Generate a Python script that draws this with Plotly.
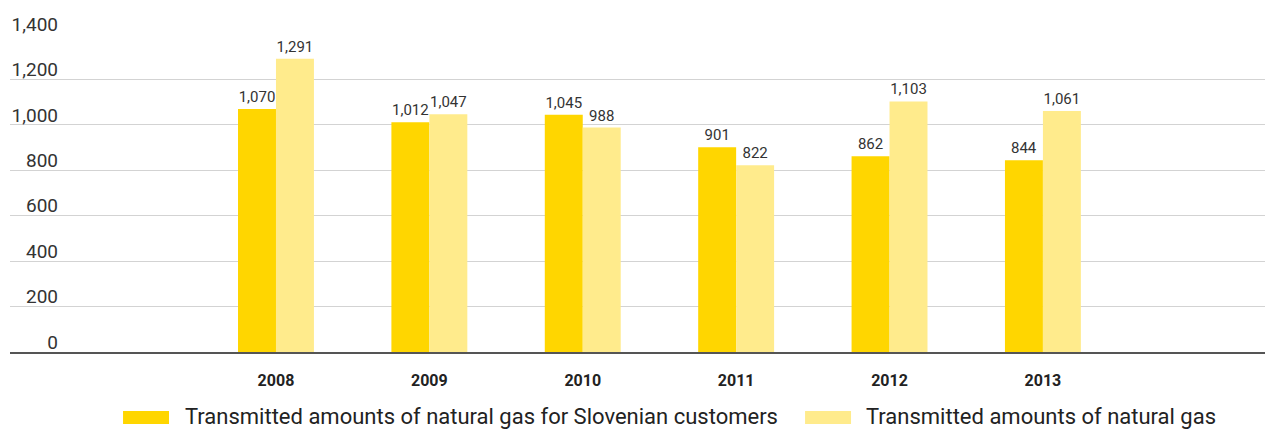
import plotly.graph_objs as go

years = ['2008', '2009', '2010', '2011', '2012', '2013']
slovenian = [1070, 1012, 1045, 901, 862, 844]
total = [1291, 1047, 988, 822, 1103, 1061]
series_names = ['Transmitted amounts of natural gas for Slovenian customers',
                'Transmitted amounts of natural gas']
y_ticks = [0, 200, 400, 600, 800, 1000, 1200, 1400]

dark = '#FFD600'
light = '#FFEB8C'
font = 'Roboto, Noto Sans, sans-serif'

fig = go.Figure()

fig.add_trace(go.Bar(x=years, y=slovenian, name=series_names[0], marker=dict(color=dark, line=dict(width=0)),
                     texttemplate='%{y:,}', textposition='outside', cliponaxis=False,
                     textfont=dict(size=15, color='#333333', family=font)))
fig.add_trace(go.Bar(x=years, y=total, name=series_names[1], marker=dict(color=light, line=dict(width=0)),
                     texttemplate='%{y:,}', textposition='outside', cliponaxis=False,
                     textfont=dict(size=15, color='#333333', family=font)))

# custom legend with wide swatches (page body adds an 8px offset, so sizes are 8px smaller)
legend_items = [(0.0895, 0.1370, series_names[0], dark), (0.6295, 0.6762, series_names[1], light)]
for x0, xt, label, color in legend_items:
    fig.add_shape(type='rect', xref='paper', yref='paper', x0=x0, x1=x0 + 0.0364,
                  y0=-0.2264, y1=-0.1855, fillcolor=color, line=dict(width=0))
    fig.add_annotation(x=xt, y=-0.2044, xref='paper', yref='paper', text=label,
                       showarrow=False, xanchor='left', yanchor='middle',
                       font=dict(size=22, color='#222222', family=font))

fig.update_layout(width=1265, height=421,
                  margin=dict(l=2, r=0, t=26, b=77),
                  paper_bgcolor='white', plot_bgcolor='white',
                  barmode='group', bargap=0.505, bargroupgap=0,
                  showlegend=False,
                  font=dict(family=font, color='#333333'))

fig.update_xaxes(type='category', range=[-1.734, 6.5], showgrid=False,
                 showline=True, linecolor='#555555', linewidth=2,
                 ticks='', ticklabelstandoff=13, automargin=False,
                 tickfont=dict(size=16, color='#222222', family=font, weight='bold'))

fig.update_yaxes(range=[0, 1400], tickvals=y_ticks, tickformat=',',
                 showgrid=True, gridcolor='#d3d3d3', gridwidth=1,
                 zeroline=False, showline=False, automargin=False,
                 ticklabelposition='outside', ticklabelstandoff=-49, ticklabelshift=-10,
                 tickfont=dict(size=19, color='#333333', family=font))

fig.write_html('out.html')
